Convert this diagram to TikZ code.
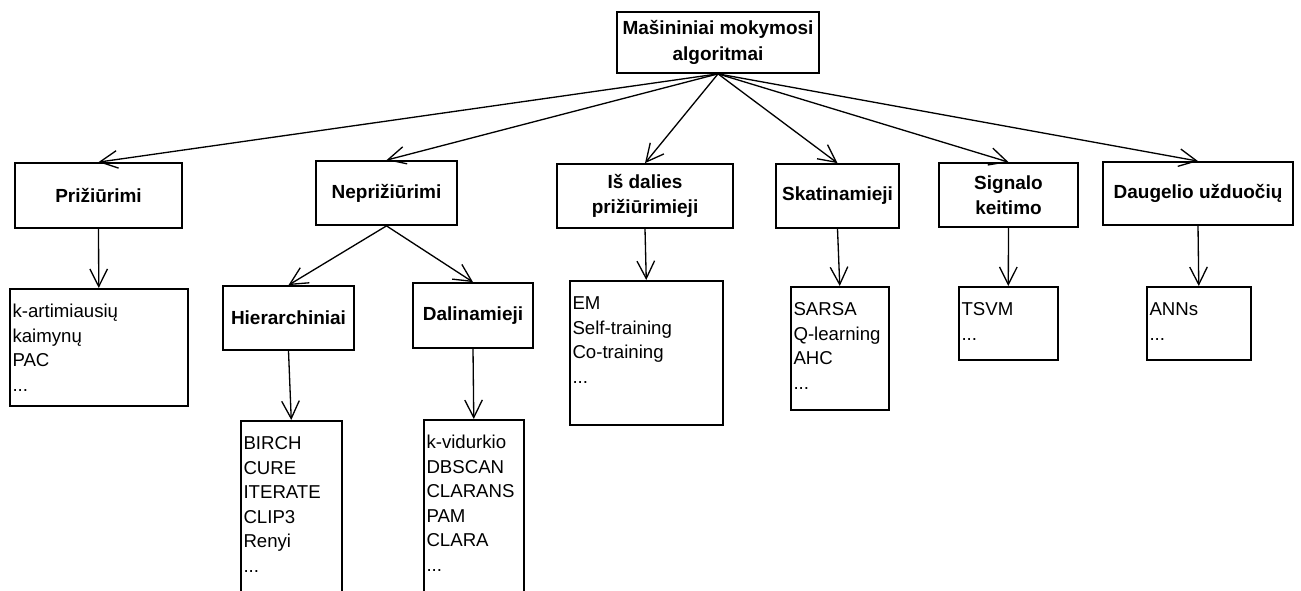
\documentclass[tikz,border=0pt]{standalone}
\usepackage{fontspec}
\setmainfont{Liberation Sans}
\usepackage{tikz}
\usetikzlibrary{arrows.meta,positioning}
\tikzset{every node/.append style={align=center}}

\begin{document}
\begin{tikzpicture}[
    group/.style={draw, line width=1pt, inner sep=0pt, font=\bfseries\fontsize{10.8}{14.4}\selectfont},
    listbox/.style={draw, line width=1pt, anchor=north west, align=left, inner xsep=1.5pt, inner ysep=0pt, text height=0.58cm, font=\fontsize{10.6}{13.9}\selectfont},
    arrow/.style={line width=0.75pt, -{Straight Barb[length=10pt, width=10pt, line width=0.75pt]}}
]
    \useasboundingbox (0, 0) rectangle (26.02, 11.8);

    % Root
    \node[group, minimum width=4.04cm, minimum height=1.22cm] (root) at (14.36, 10.95) {Mašininiai mokymosi\\algoritmai};

    % Algorithm groups
    \node[group, minimum width=3.34cm, minimum height=1.30cm] (supervised) at (1.97, 7.89) {Prižiūrimi};
    \node[group, minimum width=2.82cm, minimum height=1.28cm] (unsupervised) at (7.73, 7.94) {Neprižiūrimi};
    \node[group, minimum width=3.52cm, minimum height=1.28cm] (semisupervised) at (12.90, 7.88) {Iš dalies\\prižiūrimieji};
    \node[group, minimum width=2.46cm, minimum height=1.28cm] (reinforcement) at (16.75, 7.88) {Skatinamieji};
    \node[group, minimum width=2.78cm, minimum height=1.28cm] (transduction) at (20.17, 7.90) {Signalo\\keitimo};
    \node[group, minimum width=3.80cm, minimum height=1.26cm] (multitask) at (23.96, 7.93) {Daugelio užduočių};

    % Clustering subgroups
    \node[group, minimum width=2.62cm, minimum height=1.28cm] (hierarchical) at (5.77, 5.44) {Hierarchiniai};
    \node[group, minimum width=2.40cm, minimum height=1.30cm] (partitional) at (9.46, 5.49) {Dalinamieji};

    % Algorithm lists
    \node[listbox, text width=3.45cm, text depth=1.76cm] (supervised-list) at (0.18, 6.04) {
        k-artimiausių\\
        kaimynų\\
        PAC\\
        ...
    };
    \node[listbox, text width=1.91cm, text depth=3.2cm] (hierarchical-list) at (4.80, 3.40) {
        BIRCH\\
        CURE\\
        ITERATE\\
        CLIP3\\
        Renyi\\
        ...
    };
    \node[listbox, text width=1.89cm, text depth=3.2cm] (partitional-list) at (8.46, 3.42) {
        k-vidurkio\\
        DBSCAN\\
        CLARANS\\
        PAM\\
        CLARA\\
        ...
    };
    \node[listbox, text width=2.95cm, text depth=2.30cm] (semisupervised-list) at (11.38, 6.20) {
        EM\\
        Self-training\\
        Co-training\\
        ...
    };
    \node[listbox, text width=1.85cm, text depth=1.88cm] (reinforcement-list) at (15.80, 6.08) {
        SARSA\\
        Q-learning\\
        AHC\\
        ...
    };
    \node[listbox, text width=1.87cm, text depth=0.88cm] (transduction-list) at (19.16, 6.08) {
        TSVM\\
        ...
    };
    \node[listbox, text width=1.97cm, text depth=0.88cm] (multitask-list) at (22.92, 6.08) {
        ANNs\\
        ...
    };

    % Root to groups
    \foreach \g in {supervised, unsupervised, semisupervised, reinforcement, transduction, multitask}
        \draw[arrow] (root.south) -- (\g.north);

    % Unsupervised to subgroups
    \draw[arrow] (unsupervised.south) -- (hierarchical.north);
    \draw[arrow] (unsupervised.south) -- (partitional.north);

    % Groups to lists
    \foreach \g in {supervised, hierarchical, partitional, semisupervised, reinforcement, transduction, multitask}
        \draw[arrow] (\g.south) -- (\g-list.north);

\end{tikzpicture}
\end{document}
